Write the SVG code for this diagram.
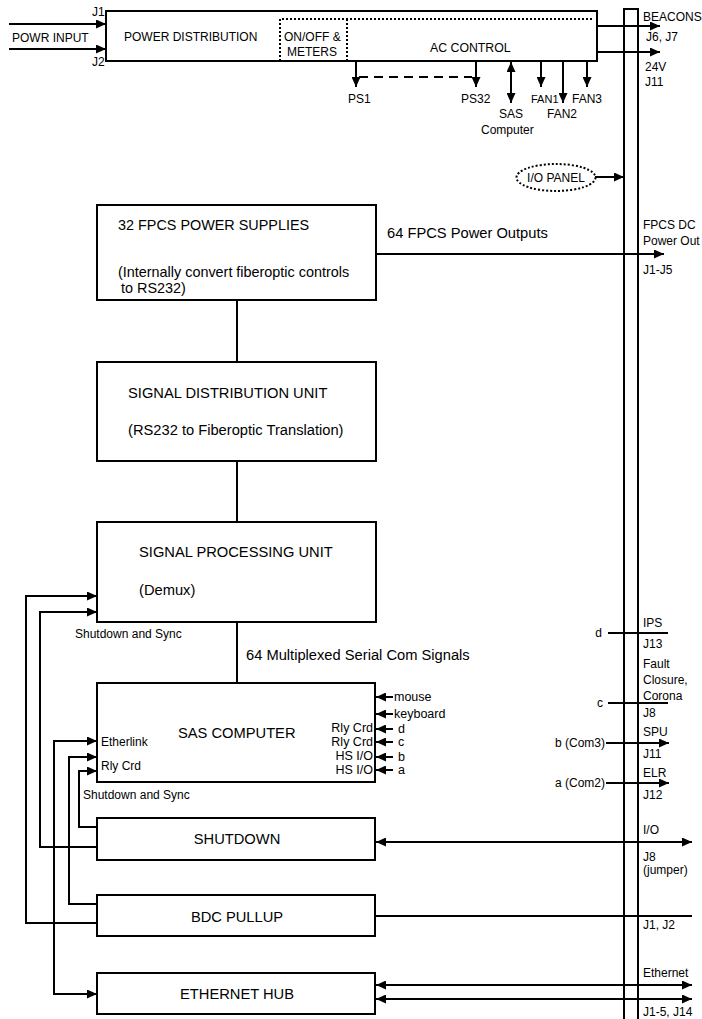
<svg xmlns="http://www.w3.org/2000/svg" width="702" height="1019" viewBox="0 0 702 1019">
<style>
text{font-family:"Liberation Sans",Arial,sans-serif;fill:#000}
.s{font-size:12px}
.m{font-size:12.5px}
.l{font-size:14.7px}
.box{fill:#fff;stroke:#000;stroke-width:2}
.ln{fill:none;stroke:#000;stroke-width:2}
.dot{fill:none;stroke:#000;stroke-width:2;stroke-dasharray:2 2}
.dash{fill:none;stroke:#000;stroke-width:2;stroke-dasharray:9 6}
.mid{text-anchor:middle}
.end{text-anchor:end}
</style>
<defs>
<marker id="ah" markerWidth="10" markerHeight="9" refX="10" refY="4.5" orient="auto-start-reverse" markerUnits="userSpaceOnUse"><path d="M0,0 L10,4.5 L0,9 z" fill="#000"/></marker>
</defs>
<rect width="702" height="1019" fill="#fff"/>

<g id="bus">
<path class="ln" d="M624,1019 V9 H638 V1019"/>
</g>

<g id="power-distribution">
<rect class="box" x="106" y="11" width="491" height="50"/>
<path class="dot" d="M280,61 V19 H593 M347,19 V61"/>
<text class="s" x="124" y="41">POWER DISTRIBUTION</text>
<text class="s" x="284" y="41">ON/OFF &amp;</text>
<text class="s" x="287" y="56">METERS</text>
<text class="s" x="430" y="52" style="font-size:12.3px">AC CONTROL</text>
</g>

<g id="io-panel">
<ellipse class="dot" cx="556" cy="177.5" rx="39.5" ry="13.5"/>
<text class="s mid" x="556" y="182">I/O PANEL</text>
</g>

<g id="fpcs-power-supplies">
<rect class="box" x="97" y="205" width="279" height="95"/>
<text class="l" x="118" y="230" style="font-size:14.4px">32 FPCS POWER SUPPLIES</text>
<text class="l" x="118" y="277" style="font-size:14.4px">(Internally convert fiberoptic controls</text>
<text class="l" x="121" y="293" style="font-size:14.4px">to RS232)</text>
</g>

<g id="signal-distribution-unit">
<rect class="box" x="97" y="362" width="279" height="99"/>
<text class="l" x="128" y="398">SIGNAL DISTRIBUTION UNIT</text>
<text class="l" x="128" y="435">(RS232 to Fiberoptic Translation)</text>
</g>

<g id="signal-processing-unit">
<rect class="box" x="97" y="522" width="279" height="100"/>
<text class="l" x="139" y="557">SIGNAL PROCESSING UNIT</text>
<text class="l" x="139" y="595">(Demux)</text>
</g>

<g id="sas-computer">
<rect class="box" x="97" y="683" width="278" height="99"/>
<text class="l" x="178" y="738">SAS COMPUTER</text>
<text class="s" x="101" y="746">Etherlink</text>
<text class="s" x="101" y="770">Rly Crd</text>
<text class="m end" x="373" y="732">Rly Crd</text>
<text class="m end" x="373" y="746">Rly Crd</text>
<text class="m end" x="373" y="760">HS I/O</text>
<text class="m end" x="373" y="774">HS I/O</text>
</g>

<g id="shutdown">
<rect class="box" x="97" y="818" width="278" height="42"/>
<text class="l mid" x="237" y="844">SHUTDOWN</text>
</g>

<g id="bdc-pullup">
<rect class="box" x="97" y="895" width="278" height="41"/>
<text class="l mid" x="237" y="922">BDC PULLUP</text>
</g>

<g id="ethernet-hub">
<rect class="box" x="97" y="973" width="278" height="41"/>
<text class="l mid" x="237" y="999">ETHERNET HUB</text>
</g>

<g id="connectors">
<path class="ln" d="M9,24 H106" marker-end="url(#ah)"/>
<path class="ln" d="M9,49 H106" marker-end="url(#ah)"/>
<path class="ln" d="M597,26 H660" marker-end="url(#ah)"/>
<path class="ln" d="M597,52 H660" marker-end="url(#ah)"/>
<path class="ln" d="M356,61 V87" marker-end="url(#ah)"/>
<path class="ln" d="M476,61 V87" marker-end="url(#ah)"/>
<path class="dash" d="M359,77 H472"/>
<path class="ln" d="M511,62 V103" marker-start="url(#ah)" marker-end="url(#ah)"/>
<path class="ln" d="M541,61 V87" marker-end="url(#ah)"/>
<path class="ln" d="M563,61 V103" marker-end="url(#ah)"/>
<path class="ln" d="M587,61 V87" marker-end="url(#ah)"/>
<path class="ln" d="M595,177 H624" marker-end="url(#ah)"/>
<path class="ln" d="M376,254 H664" marker-end="url(#ah)"/>
<path class="ln" d="M237,300 V362 M237,461 V522 M237,622 V683"/>
<path class="ln" d="M97,923 H26 V596 H97" marker-end="url(#ah)"/>
<path class="ln" d="M97,847 H40 V612 H97" marker-end="url(#ah)"/>
<path class="ln" d="M97,741 H54 V994 H97" marker-start="url(#ah)" marker-end="url(#ah)"/>
<path class="ln" d="M97,904 H69 V757 H97" marker-end="url(#ah)"/>
<path class="ln" d="M97,827 H79 V771 H97" marker-end="url(#ah)"/>
<path class="ln" d="M393,697 H376" marker-end="url(#ah)"/>
<path class="ln" d="M393,714 H376" marker-end="url(#ah)"/>
<path class="ln" d="M393,729 H376" marker-end="url(#ah)"/>
<path class="ln" d="M393,742 H376" marker-end="url(#ah)"/>
<path class="ln" d="M393,757 H376" marker-end="url(#ah)"/>
<path class="ln" d="M393,770 H376" marker-end="url(#ah)"/>
<path class="ln" d="M608,633 H668"/>
<path class="ln" d="M608,703 H668"/>
<path class="ln" d="M606,743 H669" marker-end="url(#ah)"/>
<path class="ln" d="M606,783 H669" marker-end="url(#ah)"/>
<path class="ln" d="M376,842 H692" marker-start="url(#ah)" marker-end="url(#ah)"/>
<path class="ln" d="M375,916 H692"/>
<path class="ln" d="M376,985 H692" marker-start="url(#ah)" marker-end="url(#ah)"/>
<path class="ln" d="M376,999 H692" marker-start="url(#ah)" marker-end="url(#ah)"/>
</g>

<g id="labels">
<text class="s" x="92" y="16">J1</text>
<text class="s" x="92" y="66">J2</text>
<text class="s" x="12" y="42">POWR INPUT</text>
<text class="s" x="643" y="21">BEACONS</text>
<text class="s" x="646" y="41">J6, J7</text>
<text class="s" x="645" y="71">24V</text>
<text class="s" x="645" y="86">J11</text>
<text class="s" x="348" y="103">PS1</text>
<text class="s" x="461" y="103">PS32</text>
<text class="s" x="499" y="118">SAS</text>
<text class="s" x="481" y="134">Computer</text>
<text class="s" x="531" y="103" style="font-size:11px">FAN1</text>
<text class="s" x="547" y="118">FAN2</text>
<text class="s" x="572" y="103">FAN3</text>
<text class="l" x="387" y="238">64 FPCS Power Outputs</text>
<text class="s" x="643" y="229">FPCS DC</text>
<text class="s" x="643" y="245">Power Out</text>
<text class="s" x="643" y="274">J1-J5</text>
<text class="s" x="75" y="638">Shutdown and Sync</text>
<text class="l" x="246" y="660">64 Multiplexed Serial Com Signals</text>
<text class="s" x="83" y="799">Shutdown and Sync</text>
<text class="m" x="394" y="701">mouse</text>
<text class="m" x="394" y="718">keyboard</text>
<text class="m" x="398" y="733">d</text>
<text class="m" x="398" y="746">c</text>
<text class="m" x="398" y="761">b</text>
<text class="m" x="398" y="774">a</text>
<text class="s" x="643" y="627">IPS</text>
<text class="s" x="643" y="648">J13</text>
<text class="s" x="643" y="668">Fault</text>
<text class="s" x="643" y="684">Closure,</text>
<text class="s" x="643" y="700">Corona</text>
<text class="s" x="643" y="717">J8</text>
<text class="s" x="643" y="736">SPU</text>
<text class="s" x="643" y="758">J11</text>
<text class="s" x="643" y="777">ELR</text>
<text class="s" x="643" y="799">J12</text>
<text class="s end" x="602" y="637">d</text>
<text class="s end" x="603" y="707">c</text>
<text class="s end" x="605" y="747">b (Com3)</text>
<text class="s end" x="605" y="787">a (Com2)</text>
<text class="s" x="643" y="834">I/O</text>
<text class="s" x="643" y="861">J8</text>
<text class="s" x="643" y="874">(jumper)</text>
<text class="s" x="643" y="929">J1, J2</text>
<text class="s" x="643" y="977">Ethernet</text>
<text class="s" x="643" y="1016">J1-5, J14</text>
</g>
</svg>
